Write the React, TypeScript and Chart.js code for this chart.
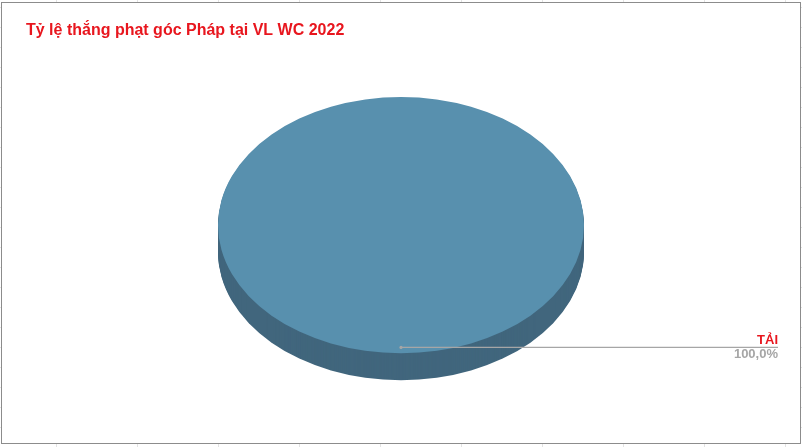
import { useEffect, useRef } from 'react';
import { Chart, registerables } from 'chart.js';

Chart.register(...registerables);

const titleText = 'Tỷ lệ thắng phạt góc Pháp tại VL WC 2022';
const categories = ['TẢI'];
const values = [100];
const topColors = ['#5890AE'];
const sideColors = ['#41667D'];

const TILT = 0.7; // vertical squash of the pie top
const DEPTH = 27; // thickness of the 3D side

// fake 3D pie: draws the side, then squashes the chart's own arcs into an ellipse
const pie3d = {
  id: 'pie3d',
  beforeDatasetsDraw(chart) {
    const ctx = chart.ctx;
    const meta = chart.getDatasetMeta(0);
    meta.data.forEach((arc, i) => {
      const { x, y, outerRadius, startAngle, endAngle } = arc.getProps(['x', 'y', 'outerRadius', 'startAngle', 'endAngle']);
      const full = endAngle - startAngle >= Math.PI * 2 - 0.0001;
      ctx.save();
      ctx.fillStyle = sideColors[i];
      for (let d = DEPTH; d > 0; d--) {
        ctx.beginPath();
        if (!full) ctx.moveTo(x, y + d);
        ctx.ellipse(x, y + d, outerRadius, outerRadius * TILT, 0, startAngle, endAngle);
        ctx.closePath();
        ctx.fill();
      }
      ctx.restore();
    });
    const first = meta.data[0];
    ctx.save();
    ctx.translate(first.x, first.y);
    ctx.scale(1, TILT);
    ctx.translate(-first.x, -first.y);
  },
  afterDatasetsDraw(chart) {
    const ctx = chart.ctx;
    ctx.restore();
    const meta = chart.getDatasetMeta(0);
    const total = values.reduce((a, b) => a + b, 0);
    meta.data.forEach((arc, i) => {
      const { x, y, outerRadius } = arc.getProps(['x', 'y', 'outerRadius']);
      const sx = x;
      const sy = y + outerRadius * TILT * 0.955;
      const ex = chart.width - 24;
      ctx.save();
      ctx.strokeStyle = '#A6A6A6';
      ctx.lineWidth = 1.2;
      ctx.beginPath();
      ctx.moveTo(sx, sy);
      ctx.lineTo(ex, sy);
      ctx.stroke();
      ctx.fillStyle = '#A6A6A6';
      ctx.beginPath();
      ctx.arc(sx, sy, 1.6, 0, Math.PI * 2);
      ctx.fill();
      ctx.textAlign = 'right';
      ctx.textBaseline = 'alphabetic';
      ctx.font = 'bold 13px "Liberation Sans", Arial, sans-serif';
      ctx.fillStyle = '#E8161E';
      ctx.fillText(categories[i], ex, sy - 3);
      ctx.fillStyle = '#A6A6A6';
      ctx.fillText((values[i] / total * 100).toFixed(1).replace('.', ',') + '%', ex, sy + 11);
      ctx.restore();
    });
  },
};

const App = () => {
  const chartRef = useRef(null);
  const chartInstance = useRef(null);

  useEffect(() => {
    if (chartRef.current) {
      if (chartInstance.current) {
        chartInstance.current.destroy();
      }
      chartInstance.current = new Chart(chartRef.current.getContext('2d'), {
        type: 'pie',
        data: {
          labels: categories,
          datasets: [{
            data: values,
            backgroundColor: topColors,
            borderWidth: 0,
          }],
        },
        options: {
          animation: false,
          responsive: true,
          maintainAspectRatio: false,
          radius: 183,
          layout: { padding: { top: 0, bottom: 39, left: 26, right: 26 } },
          plugins: {
            legend: { display: false },
            tooltip: { enabled: false },
            title: {
              display: true,
              text: titleText,
              align: 'start',
              color: '#E8161E',
              font: { family: '"Liberation Sans", Arial, sans-serif', size: 16, weight: 'bold', lineHeight: 1.2 },
              padding: { top: 21, bottom: 2 },
            },
          },
        },
        plugins: [pie3d],
      });
    }

    return () => {
      if (chartInstance.current) {
        chartInstance.current.destroy();
        chartInstance.current = null;
      }
    };
  }, []);

  return (
    <div style={{
      position: 'absolute', left: 0, top: 0, width: 802, height: 447, background: '#fff',
      backgroundImage: 'repeating-linear-gradient(90deg, transparent 0 56px, #e3e3e3 56px 57px, transparent 57px 81px), repeating-linear-gradient(0deg, transparent 0 19px, #e3e3e3 19px 20px)',
    }}>
      <div style={{
        position: 'absolute', left: 1, top: 2, width: 800, height: 442,
        boxSizing: 'border-box', border: '1px solid #8C8C8C', background: '#fff',
      }} />
      <div style={{ position: 'absolute', left: 0, top: 0, width: 802, height: 447 }}>
        <canvas ref={chartRef} />
      </div>
    </div>
  );
};

export default App;
